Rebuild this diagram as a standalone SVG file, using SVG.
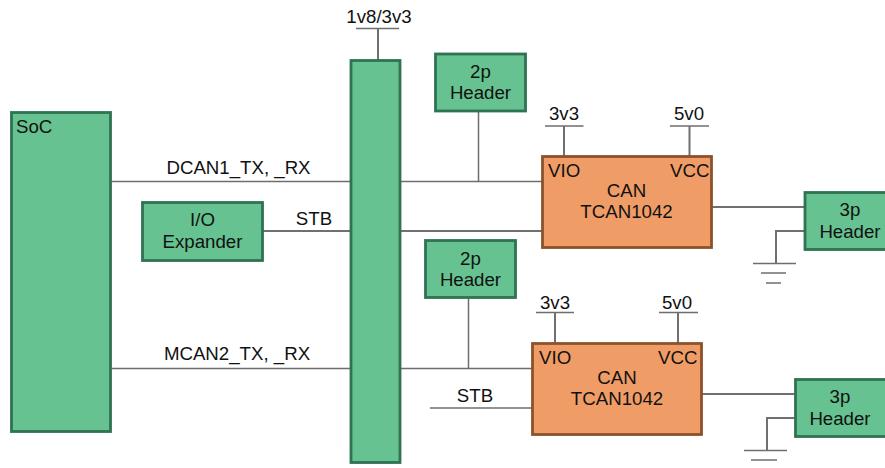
<svg xmlns="http://www.w3.org/2000/svg" width="885" height="468" viewBox="0 0 885 468">
<style>
.g{fill:#66c290;stroke:#2f7352;stroke-width:2.800}
.o{fill:#f09c66;stroke:#8c532b;stroke-width:2.800}
.w{fill:none;stroke:#707070;stroke-width:2}
.t{fill:none;stroke:#6e6e6e;stroke-width:1.500}
text{font-family:"Liberation Sans",Arial,sans-serif;font-size:18.670px;fill:#111}
.m{text-anchor:middle}
</style>
<rect width="885" height="468" fill="#fff"/>
<g id="connectors">
<path class="t" d="M111.500 181.500H351M400 181.500H542M478.500 111V181.500"/>
<path class="w" d="M263 231H351M400 231H542"/>
<path class="t" d="M111.500 368.500H351M400 368.500H532M468.500 297V368.500"/>
<path class="t" d="M430 408H532"/>
<path class="w" d="M378 29V60M564 126V156M689.500 126V156"/>
<path class="t" d="M356 28.500H399M545 126H583.500M670 126H709"/>
<path class="w" d="M555 313V343M678 313V343"/>
<path class="t" d="M536 312.500H574M659 312.500H698"/>
<path class="w" d="M711 207H805M776 263V231H805"/>
<path class="t" d="M753 263.500H796M761 273H786M766 283H781"/>
<path class="w" d="M702 394H795M767 450V418H795"/>
<path class="t" d="M744 450.500H787M751 460H777"/>
</g>
<g id="soc"><rect class="g" x="11.500" y="112.500" width="99" height="319"/><text x="16" y="133">SoC</text></g>
<g id="bar"><rect class="g" x="351" y="60.500" width="49" height="402"/></g>
<g id="header2p-top"><rect class="g" x="435.500" y="54" width="90" height="57"/><text class="m" x="480.500" y="78">2p</text><text class="m" x="480.500" y="99">Header</text></g>
<g id="io-expander"><rect class="g" x="142.500" y="202.500" width="120" height="58"/><text class="m" x="202.500" y="226">I/O</text><text class="m" x="202.500" y="248">Expander</text></g>
<g id="can-top"><rect class="o" x="542.500" y="156.500" width="169" height="91"/><text x="548" y="177">VIO</text><text x="670" y="177">VCC</text><text class="m" x="626.500" y="197">CAN</text><text class="m" x="626.500" y="218">TCAN1042</text></g>
<g id="header3p-top"><rect class="g" x="805" y="192.500" width="82" height="57"/><text class="m" x="850" y="216">3p</text><text class="m" x="850" y="238">Header</text></g>
<g id="header2p-bottom"><rect class="g" x="425.500" y="240.500" width="90" height="57"/><text class="m" x="470.500" y="285" dy="-20">2p</text><text class="m" x="470.500" y="286">Header</text></g>
<g id="can-bottom"><rect class="o" x="532.500" y="343.500" width="169" height="91"/><text x="539" y="364">VIO</text><text x="658" y="364">VCC</text><text class="m" x="617" y="384">CAN</text><text class="m" x="617" y="405">TCAN1042</text></g>
<g id="header3p-bottom"><rect class="g" x="795.500" y="379.500" width="92" height="57"/><text class="m" x="840" y="403">3p</text><text class="m" x="840" y="425">Header</text></g>
<g id="labels">
<text class="m" x="379" y="23">1v8/3v3</text>
<text class="m" x="564" y="120">3v3</text><text class="m" x="689" y="120">5v0</text>
<text class="m" x="555" y="309">3v3</text><text class="m" x="677" y="309">5v0</text>
<text class="m" x="238.500" y="174">DCAN1_TX, _RX</text>
<text class="m" x="314" y="225">STB</text>
<text class="m" x="237" y="360">MCAN2_TX, _RX</text>
<text class="m" x="475" y="402">STB</text>
</g>
</svg>
